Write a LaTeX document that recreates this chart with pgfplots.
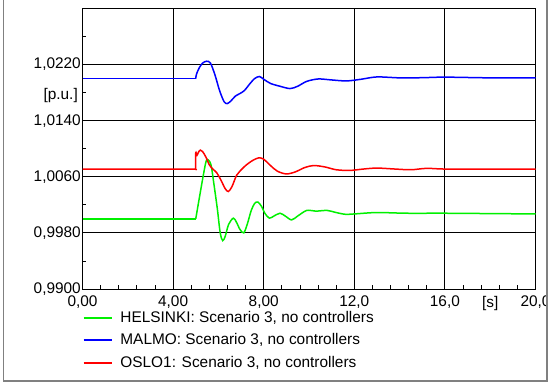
\documentclass[border=0pt]{standalone}
\usepackage{pgfplots}
\pgfplotsset{compat=1.18}
\usepackage{fontspec}
\setmainfont{Liberation Sans}
\newcommand\cf{\fontsize{15.4}{18}\selectfont}
\definecolor{hkgreen}{RGB}{0,240,0}
\definecolor{mblue}{RGB}{0,0,255}
\definecolor{oslored}{rgb}{1,0,0}
\begin{document}
\begin{tikzpicture}[x=1pt,y=1pt]
\path[use as bounding box] (0,0) rectangle (548,385);
\begin{scope}
\clip (0,0) rectangle (546.5,385);
\begin{axis}[
  at={(82.5pt,96pt)}, anchor=south west,
  scale only axis, width=453pt, height=280.6pt,
  xmin=0, xmax=20, ymin=0.990, ymax=1.030,
  axis line style={black, line width=0.9pt},
  xtick={0,4,8,12,16,20},
  xticklabels={{0,00},{4,00},{8,00},{12,0},{16,0},{20,0}},
  ytick={0.990,0.998,1.006,1.014,1.022},
  yticklabels={{0,9900},{0,9980},{1,0060},{1,0140},{1,0220}},
  minor xtick={0.8,1.6,2.4,3.2,4.8,5.6,6.4,7.2,8.8,9.6,10.4,11.2,12.8,13.6,14.4,15.2,16.8,17.6,18.4,19.2},
  minor ytick={0.994,1.002,1.010,1.018,1.026},
  extra x ticks={18}, extra x tick labels={[s]},
  extra y ticks={1.0176}, extra y tick labels={[p.u.]},
  extra x tick style={grid=none, major tick length=0pt},
  extra y tick style={grid=none, major tick length=0pt, yticklabel style={xshift=-3pt}},
  tick align=inside, tick pos=left,
  major tick length=0pt, minor tick length=3.5pt,
  tick style={black, line width=0.8pt},
  xmajorgrids, ymajorgrids,
  major grid style={black, line width=0.9pt},
  ticklabel style={font=\cf, text=black},
  yticklabel style={inner sep=1.5pt},
  xticklabel style={inner sep=2pt, yshift=-5pt},
  legend style={at={(0,0)}, anchor=north west, yshift=-21pt, draw=none, fill=none,
    font=\cf, inner sep=0pt, row sep=6.5pt,
    nodes={inner sep=1pt, text height=11pt, text depth=3pt},
    /tikz/every odd column/.append style={column sep=7pt}},
  legend image code/.code={\draw[#1, line width=1.7pt] (0pt,0.4pt) -- (28pt,0.4pt);},
  legend cell align=left,
  every axis plot/.append style={line width=1.5pt},
]
% HELSINKI
\addplot[color=hkgreen, smooth, tension=0.5] coordinates {
(5.0,1.0000) (5.42,1.0077) (5.55,1.0084) (5.68,1.0076) (5.8,1.0050)
(5.95,1.0015) (6.08,0.9980) (6.19,0.9969) (6.3,0.9975) (6.45,0.9992)
(6.66,1.0001) (6.8,0.9995) (6.95,0.9985) (7.12,0.9980) (7.28,0.9993)
(7.45,1.0012) (7.6,1.0022) (7.74,1.0024) (7.9,1.0018) (8.05,1.0008)
(8.25,1.0001) (8.45,1.0004) (8.72,1.0008) (8.95,1.0004) (9.23,0.99985)
(9.5,1.0004) (9.9,1.0012) (10.3,1.0011) (10.8,1.0012) (11.2,1.0009)
(11.6,1.00065) (12.0,1.0007) (13.0,1.0009) (14.3,1.0008) (16.0,1.0008)
(18,1.00075) (20,1.0007)};
\addlegendentry{HELSINKI: Scenario 3, no controllers}
% MALMO
\addplot[color=mblue, smooth, tension=0.5] coordinates {
(5.0,1.0200) (5.03,1.0206) (5.15,1.0215) (5.3,1.0222) (5.48,1.02247)
(5.65,1.0222) (5.85,1.0205) (6.05,1.0183) (6.25,1.0167) (6.39,1.01643)
(6.55,1.0168) (6.75,1.0175) (6.95,1.01786) (7.15,1.0183) (7.4,1.0193)
(7.6,1.0200) (7.81,1.02029) (8.0,1.0199) (8.3,1.0193) (8.72,1.0189)
(9.16,1.01857) (9.5,1.0189) (9.9,1.0196) (10.41,1.01994) (11.0,1.0198)
(11.66,1.01966) (12.3,1.0199) (13.0,1.02023) (14.0,1.0201) (15.0,1.02012)
(16.0,1.0202) (18.0,1.0201) (20.0,1.0201)};
\addlegendentry{MALMO: Scenario 3, no controllers}
% OSLO1
\addplot[color=oslored, smooth, tension=0.5] coordinates {
(0,1.0071) (1.0,1.0071) (2.0,1.0071) (3.0,1.0071) (4.0,1.0071) (4.98,1.0071) (4.995,1.0071)
(5.0,1.0094) (5.06,1.0091) (5.12,1.0095) (5.2,1.0098) (5.3,1.0096)
(5.45,1.0088) (5.6,1.0077) (5.75,1.0071) (5.92,1.0066) (6.1,1.0056)
(6.3,1.0043) (6.44,1.0039) (6.6,1.0046) (6.8,1.0062) (6.95,1.0068)
(7.2,1.0076) (7.5,1.0083) (7.78,1.0087) (8.0,1.0085) (8.3,1.0076)
(8.6,1.0068) (9.0,1.0064) (9.4,1.0067) (9.8,1.0073) (10.2,1.0076)
(10.7,1.0074) (11.2,1.0070) (11.8,1.0069) (12.4,1.0071) (13.0,1.00724)
(13.8,1.0071) (14.5,1.0070) (15.2,1.0072) (16,1.0071) (18,1.0071) (20,1.0071)};
\addlegendentry{OSLO1: Scenario 3, no controllers}
% flat pre-fault parts
\addplot[color=hkgreen, forget plot] coordinates {(0,1.0000) (5.0,1.0000)};
\addplot[color=mblue, forget plot] coordinates {(0,1.0200) (5.0,1.0200)};
\end{axis}
\end{scope}
\draw[black!50, line width=1.5pt] (3.5,390) -- (3.5,4) -- (547,4) -- (547,390);
\end{tikzpicture}
\end{document}
